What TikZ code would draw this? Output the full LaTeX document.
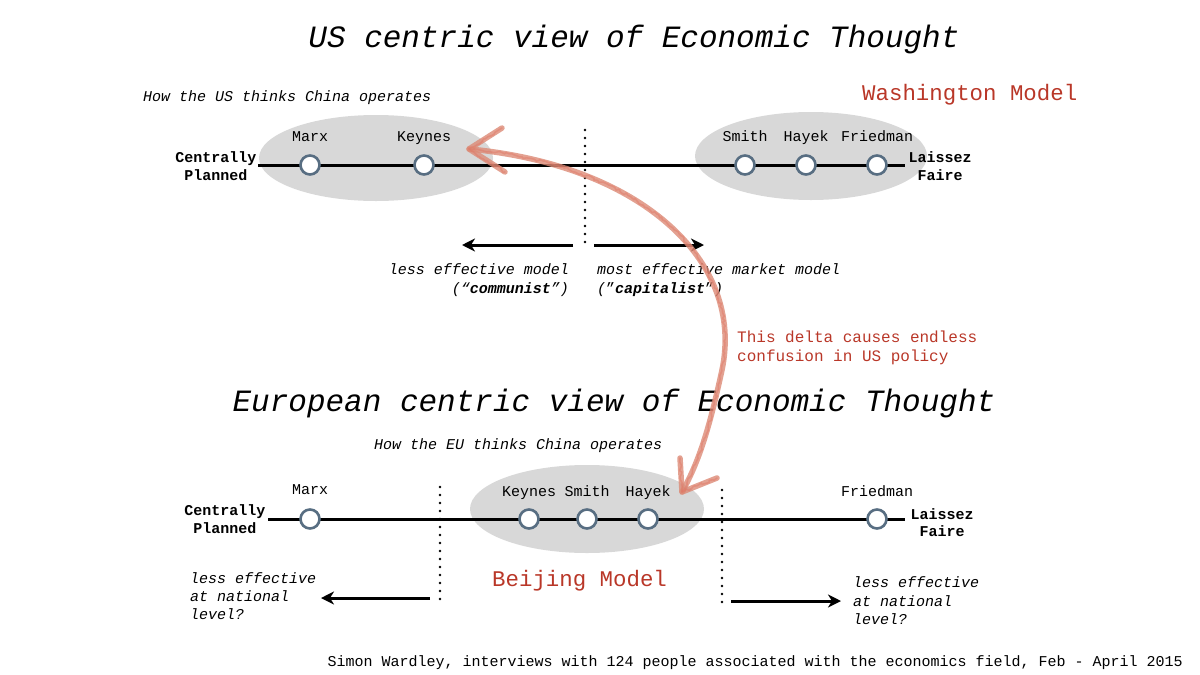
\documentclass[tikz,border=0pt]{standalone}
\usepackage{fontspec}
\setmainfont{Liberation Mono}
\usetikzlibrary{arrows.meta,decorations.pathmorphing}
\definecolor{redtxt}{RGB}{185,55,40}
\definecolor{ringc}{RGB}{88,110,130}
\definecolor{ellc}{RGB}{216,216,216}
\definecolor{salmon}{RGB}{220,138,118}
\begin{document}
\begin{tikzpicture}[x=1pt,y=-1pt,
  ring/.style={circle,draw=ringc,line width=2.6pt,fill=white,minimum size=19pt,inner sep=0pt},
  axisline/.style={line width=3pt,black},
  dotline/.style={line width=2.7pt,line cap=round,dash pattern=on 0pt off 8pt},
  arr/.style={line width=3pt,-{Stealth[length=13pt,width=13pt,inset=4pt]}},
  namelab/.style={font=\fontsize{15}{18}\selectfont,inner sep=0pt,anchor=base},
  endlab/.style={font=\fontsize{15}{18}\selectfont\bfseries,inner sep=0pt,anchor=base},
  itlab/.style={font=\fontsize{15}{18}\selectfont\itshape,inner sep=0pt},
  redlab/.style={font=\fontsize{16}{19}\selectfont,text=redtxt,inner sep=0pt,anchor=base west},
  bigtitle/.style={font=\fontsize{31}{36}\selectfont\itshape,inner sep=0pt,anchor=base},
  modellab/.style={font=\fontsize{22.4}{26}\selectfont,text=redtxt,inner sep=0pt,anchor=base west},
  blob/.style={fill=ellc},
  handarrow/.style={draw=salmon,line width=5.5pt,line cap=round,line join=round,opacity=0.8},
  handtex/.style={draw=salmon!85!red,line width=1.6pt,line cap=round,line join=round,opacity=0.45,
    decorate,decoration={random steps,segment length=2.5pt,amplitude=1.4pt}}]
\useasboundingbox (0,0) rectangle (1200,675);

% ---------------- Top section ----------------
\node[bigtitle] (t1) at (634,47) {US centric view of Economic Thought};
\node[itlab,anchor=base west] (usq) at (143,101.5) {How the US thinks China operates};
\node[modellab] (wm) at (862,100) {Washington Model};

\fill[blob] (376,158) ellipse [x radius=117, y radius=43];
\fill[blob] (811,156) ellipse [x radius=116, y radius=44];

\coordinate (aL) at (258,165);
\coordinate (aR) at (905,165);
\draw[axisline] (aL) -- (aR);

\node[ring] (marx1) at (310,165) {};
\node[ring] (keynes1) at (424,165) {};
\node[ring] (smith1) at (745,165) {};
\node[ring] (hayek1) at (806,165) {};
\node[ring] (friedman1) at (877,165) {};

\node[namelab] (lmarx1) at (310,141.5) {Marx};
\node[namelab] (lkeynes1) at (424,141.5) {Keynes};
\node[namelab] (lsmith1) at (745,141.5) {Smith};
\node[namelab] (lhayek1) at (806,141.5) {Hayek};
\node[namelab] (lfried1) at (877,141.5) {Friedman};

\node[endlab] (cp1a) at (216,162.5) {Centrally};
\node[endlab] (cp1b) at (216,180.5) {Planned};
\node[endlab] (lf1a) at (940,162.5) {Laissez};
\node[endlab] (lf1b) at (940,180.5) {Faire};

\coordinate (d1t) at (585,130);
\coordinate (d1b) at (585,246);
\draw[dotline] (d1t) -- (d1b);

\coordinate (a1s) at (573,245);
\coordinate (a1e) at (462,245);
\coordinate (a2s) at (594,245);
\coordinate (a2e) at (704,245);
\draw[arr] (a1s) -- (a1e);
\draw[arr] (a2s) -- (a2e);

\node[itlab,anchor=base east] (lem1) at (569,274.5) {less effective model};
\node[itlab,anchor=base east] (lem2) at (569,293.5) {(“\textbf{communist}”)};
\node[itlab,anchor=base west] (mem1) at (597,274.5) {most effective market model};
\node[itlab,anchor=base west] (mem2) at (597,293.5) {({\upshape"}\textbf{capitalist}{\upshape"})};

\node[redlab] (dl1) at (737,342) {This delta causes endless};
\node[redlab] (dl2) at (737,361) {confusion in US policy};

% ---------------- Bottom section ----------------
\node[bigtitle] (t2) at (614,411) {European centric view of Economic Thought};
\node[itlab,anchor=base west] (euq) at (374,449.5) {How the EU thinks China operates};

\fill[blob] (587,509) ellipse [x radius=117, y radius=44];

\coordinate (bL) at (268,519);
\coordinate (bR) at (905,519);
\draw[axisline] (bL) -- (bR);

\node[ring] (marx2) at (310,519) {};
\node[ring] (keynes2) at (529,519) {};
\node[ring] (smith2) at (587,519) {};
\node[ring] (hayek2) at (648,519) {};
\node[ring] (friedman2) at (877,519) {};

\node[namelab] (lmarx2) at (310,494.5) {Marx};
\node[namelab] (lkeynes2) at (529,496.5) {Keynes};
\node[namelab] (lsmith2) at (587,496.5) {Smith};
\node[namelab] (lhayek2) at (648,496.5) {Hayek};
\node[namelab] (lfried2) at (877,496.5) {Friedman};

\node[endlab] (cp2a) at (225,515.5) {Centrally};
\node[endlab] (cp2b) at (225,533.5) {Planned};
\node[endlab] (lf2a) at (942,519.5) {Laissez};
\node[endlab] (lf2b) at (942,536.5) {Faire};

\coordinate (d2t) at (440,487);
\coordinate (d2b) at (440,602);
\draw[dotline] (d2t) -- (d2b);
\coordinate (d3t) at (722,490);
\coordinate (d3b) at (722,607);
\draw[dotline] (d3t) -- (d3b);

\coordinate (b1s) at (430,598);
\coordinate (b1e) at (321,598);
\coordinate (b2s) at (731,601);
\coordinate (b2e) at (841,601);
\draw[arr] (b1s) -- (b1e);
\draw[arr] (b2s) -- (b2e);

\node[modellab] (bm) at (492,586) {Beijing Model};

\node[itlab,anchor=base west] (le1) at (190,583.5) {less effective};
\node[itlab,anchor=base west] (le2) at (190,601.5) {at national};
\node[itlab,anchor=base west] (le3) at (190,619.5) {level?};
\node[itlab,anchor=base west] (re1) at (853,587.5) {less effective};
\node[itlab,anchor=base west] (re2) at (853,606.5) {at national};
\node[itlab,anchor=base west] (re3) at (853,624.5) {level?};

\node[font=\fontsize{15}{18}\selectfont,inner sep=0pt,anchor=base east] (foot) at (1183,666)
  {Simon Wardley, interviews with 124 people associated with the economics field, Feb - April 2015};

% ---------------- Hand-drawn double arrow ----------------
\coordinate (h1) at (469,149);
\coordinate (h2) at (682,492);
\coordinate (h1u) at (502,128);
\coordinate (h1d) at (505,172);
\coordinate (h2u) at (680,458);
\coordinate (h2r) at (717,478);
\draw[handarrow] (h1) .. controls (640,165) and (745,260) .. (722,370)
  .. controls (710,425) and (700,460) .. (h2);
\draw[handarrow] (h1u) -- (h1) -- (h1d);
\draw[handarrow] (h2u) -- (h2) -- (h2r);
\draw[handtex] (h1) .. controls (640,165) and (745,260) .. (722,370)
  .. controls (710,425) and (700,460) .. (h2);
\draw[handtex] (h1u) -- (h1) -- (h1d);
\draw[handtex] (h2u) -- (h2) -- (h2r);
\end{tikzpicture}
\end{document}
